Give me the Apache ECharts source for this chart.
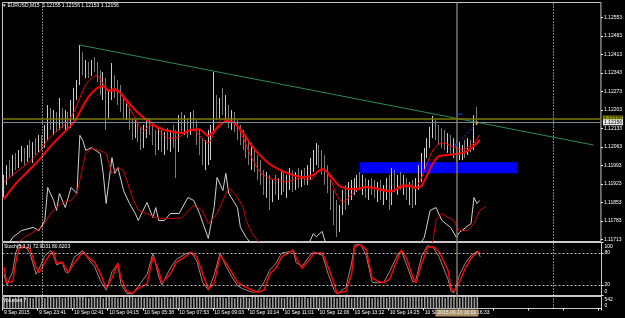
<!DOCTYPE html>
<html><head><meta charset="utf-8">
<script src="https://cdn.jsdelivr.net/npm/echarts@6/dist/echarts.min.js"></script>
<style>html,body{margin:0;padding:0;background:#000;overflow:hidden}#c{width:625px;height:318px}</style>
</head><body><div id="c"></div>
<script>
// ---------- DATA ----------
const timeLabels = ['9 Sep 2015','9 Sep 23:41','10 Sep 02:41','10 Sep 04:15','10 Sep 05:38','10 Sep 07:53','10 Sep 09:03','10 Sep 10:14','10 Sep 11:01','10 Sep 12:06','10 Sep 13:12','10 Sep 14:25','10 Sep 15:20','10 Sep 16:33'];
const priceTicks = [1.11713,1.11783,1.11853,1.11923,1.11993,1.12063,1.12133,1.12203,1.12273,1.12343,1.12413,1.12483,1.12553];
const stochTicks = [0,20,80,100];
const stochLevels = [80,20];

const opens = [
1.11892,1.11938,1.11975,1.11960,1.12013,1.11994,1.12032,1.12051,1.12013,1.12059,
1.12032,1.12070,1.12051,1.12089,1.12070,1.12127,1.12202,1.12146,1.12183,1.12134,
1.12202,1.12164,1.12172,1.12146,1.12202,1.12259,1.12297,1.12410,1.12361,1.12372,
1.12346,1.12376,1.12361,1.12323,1.12285,1.12316,1.12183,1.12259,1.12334,1.12278,
1.12248,1.12221,1.12195,1.12210,1.12146,1.12119,1.12134,1.12096,1.12070,1.12119,
1.12157,1.12127,1.12089,1.12059,1.12108,1.12070,1.12089,1.12070,1.12108,1.12089,
1.12051,1.12164,1.12134,1.12157,1.12119,1.12172,1.12146,1.12089,1.12059,1.12032,
1.12070,1.12108,1.12127,1.12240,1.12183,1.12232,1.12202,1.12221,1.12164,1.12183,
1.12146,1.12108,1.12089,1.12070,1.12051,1.12021,1.12051,1.11994,1.11968,1.11938,
1.11907,1.11938,1.11862,1.11919,1.11900,1.11919,1.11945,1.11907,1.11938,1.11957,
1.11919,1.11945,1.11930,1.11957,1.11938,1.11975,1.12006,1.12032,1.12051,1.12013,
1.11983,1.11945,1.11907,1.11862,1.11805,1.11767,1.11824,1.11881,1.11862,1.11907,
1.11919,1.11930,1.11945,1.11919,1.11938,1.11900,1.11919,1.11907,1.11892,1.11919,
1.11881,1.11900,1.11930,1.11862,1.11957,1.11919,1.11938,1.11919,1.11945,1.11881,
1.11907,1.11862,1.11919,1.11975,1.12013,1.12043,1.12081,1.12119,1.12157,1.12127,
1.12108,1.12089,1.12070,1.12096,1.12051,1.12070,1.12021,1.12051,1.12059,1.12043,
1.12070,1.12059,1.12172,1.12155];
const highs = [
1.11957,1.11994,1.12013,1.12032,1.12040,1.12051,1.12066,1.12059,1.12070,1.12089,
1.12081,1.12096,1.12108,1.12108,1.12146,1.12221,1.12210,1.12202,1.12195,1.12248,
1.12210,1.12202,1.12195,1.12240,1.12285,1.12316,1.12448,1.12421,1.12391,1.12384,
1.12391,1.12402,1.12384,1.12353,1.12346,1.12323,1.12278,1.12380,1.12334,1.12316,
1.12297,1.12259,1.12229,1.12214,1.12172,1.12164,1.12157,1.12134,1.12146,1.12172,
1.12172,1.12146,1.12127,1.12134,1.12127,1.12119,1.12134,1.12127,1.12146,1.12127,
1.12183,1.12195,1.12183,1.12172,1.12195,1.12202,1.12164,1.12127,1.12096,1.12089,
1.12127,1.12146,1.12346,1.12259,1.12248,1.12285,1.12259,1.12221,1.12202,1.12195,
1.12164,1.12146,1.12127,1.12108,1.12089,1.12077,1.12059,1.12032,1.12013,1.11975,
1.11968,1.11957,1.11938,1.11957,1.11945,1.11975,1.11968,1.11957,1.11983,1.11975,
1.11968,1.11983,1.11975,1.11983,1.11994,1.12021,1.12051,1.12077,1.12070,1.12051,
1.12032,1.11994,1.11938,1.11900,1.11862,1.11843,1.11900,1.11919,1.11930,1.11938,
1.11945,1.11957,1.11968,1.11957,1.11945,1.11938,1.11945,1.11938,1.11930,1.11938,
1.11919,1.11945,1.11957,1.11983,1.11975,1.11957,1.11968,1.11957,1.11945,1.11930,
1.11938,1.11945,1.11994,1.12040,1.12059,1.12096,1.12138,1.12180,1.12164,1.12146,
1.12134,1.12127,1.12115,1.12108,1.12096,1.12089,1.12081,1.12070,1.12089,1.12096,
1.12089,1.12183,1.12214,1.12156];
const lows = [
1.11873,1.11919,1.11945,1.11953,1.11975,1.11983,1.12006,1.11994,1.12006,1.12021,
1.12002,1.12032,1.12043,1.12051,1.12059,1.12089,1.12127,1.12108,1.12119,1.12127,
1.12134,1.12119,1.12127,1.12134,1.12164,1.12240,1.12297,1.12334,1.12323,1.12323,
1.12331,1.12346,1.12308,1.12259,1.12240,1.12127,1.12172,1.12240,1.12248,1.12221,
1.12195,1.12172,1.12164,1.12127,1.12089,1.12096,1.12081,1.12051,1.12059,1.12096,
1.12108,1.12070,1.12032,1.12051,1.12043,1.12032,1.12051,1.12043,1.12059,1.11945,
1.12043,1.12119,1.12108,1.12096,1.12108,1.12127,1.12070,1.12032,1.11994,1.11975,
1.11994,1.12013,1.12119,1.12164,1.12172,1.12183,1.12164,1.12134,1.12127,1.12119,
1.12089,1.12070,1.12051,1.12021,1.11994,1.11975,1.11968,1.11938,1.11919,1.11881,
1.11870,1.11824,1.11854,1.11881,1.11862,1.11881,1.11892,1.11870,1.11900,1.11892,
1.11900,1.11907,1.11911,1.11919,1.11919,1.11938,1.11968,1.11994,1.11983,1.11957,
1.11919,1.11888,1.11824,1.11767,1.11722,1.11741,1.11805,1.11824,1.11843,1.11862,
1.11881,1.11892,1.11900,1.11881,1.11870,1.11862,1.11881,1.11870,1.11854,1.11862,
1.11843,1.11862,1.11824,1.11843,1.11892,1.11881,1.11900,1.11881,1.11862,1.11843,
1.11832,1.11843,1.11900,1.11930,1.11975,1.12021,1.12059,1.12096,1.12089,1.12070,
1.12059,1.12051,1.12040,1.12032,1.12021,1.12006,1.12013,1.12013,1.12021,1.12032,
1.12043,1.12051,1.12146,1.12153];
const closes = [
1.11938,1.11975,1.11957,1.12013,1.11994,1.12032,1.12051,1.12013,1.12059,1.12032,
1.12070,1.12051,1.12089,1.12070,1.12127,1.12202,1.12146,1.12183,1.12134,1.12202,
1.12164,1.12172,1.12146,1.12210,1.12259,1.12297,1.12410,1.12361,1.12372,1.12346,
1.12376,1.12361,1.12323,1.12285,1.12316,1.12164,1.12259,1.12334,1.12278,1.12248,
1.12221,1.12195,1.12210,1.12146,1.12119,1.12134,1.12096,1.12070,1.12119,1.12157,
1.12127,1.12089,1.12059,1.12108,1.12070,1.12089,1.12070,1.12108,1.12089,1.12051,
1.12164,1.12134,1.12157,1.12119,1.12172,1.12146,1.12089,1.12059,1.12032,1.12070,
1.12108,1.12127,1.12240,1.12183,1.12232,1.12202,1.12221,1.12164,1.12183,1.12146,
1.12108,1.12089,1.12070,1.12051,1.12021,1.12051,1.11994,1.11968,1.11938,1.11907,
1.11938,1.11862,1.11919,1.11900,1.11919,1.11945,1.11907,1.11938,1.11957,1.11919,
1.11945,1.11930,1.11957,1.11938,1.11975,1.12006,1.12032,1.12051,1.12013,1.11983,
1.11945,1.11907,1.11862,1.11805,1.11767,1.11824,1.11881,1.11862,1.11907,1.11919,
1.11930,1.11945,1.11919,1.11938,1.11900,1.11919,1.11907,1.11892,1.11919,1.11881,
1.11900,1.11930,1.11862,1.11957,1.11919,1.11938,1.11919,1.11945,1.11881,1.11907,
1.11862,1.11919,1.11975,1.12013,1.12043,1.12081,1.12119,1.12157,1.12127,1.12108,
1.12089,1.12070,1.12096,1.12051,1.12070,1.12021,1.12051,1.12059,1.12043,1.12070,
1.12059,1.12172,1.12157,1.12156];
const volumes = [
512,488,530,455,498,520,470,542,505,480,462,515,498,530,475,520,540,502,488,515,
470,495,528,510,482,536,542,520,498,476,505,530,488,512,466,540,525,498,510,484,
470,515,492,528,505,478,500,522,488,510,470,495,518,506,480,532,498,470,512,540,
526,488,505,476,515,498,530,510,485,520,542,530,505,488,512,495,478,520,502,466,
510,488,525,498,472,515,530,505,484,520,498,476,512,536,505,488,470,515,498,522,
480,506,492,518,470,500,526,512,488,540,530,505,520,498,476,512,488,530,505,470,
495,518,502,486,522,498,470,510,490,528,505,478,515,496,532,508,484,520,498,512,
540,528,512,496,520,505,488,515,530,498,510,486,520,502,528,495,470,512,540,505,
518,496,530,7];

// moving averages (bar index, price)
const maSlowIdx = [0,4,8,12,16,20,24,26,28,30,32,34,36,38,40,42,44,46,48,50,52,55,58,61,64,67,70,73,76,79,82,85,88,91,94,97,100,103,106,109,111,113,115,118,121,124,127,130,133,136,139,141,143,145,147,149,152,155,158,161,163];
const maSlowVal = [1.11866,1.11923,1.11968,1.12013,1.12066,1.12111,1.12157,1.12195,1.12236,1.12266,1.12285,1.12293,1.12274,1.12278,1.12266,1.12240,1.12214,1.12191,1.12172,1.12157,1.12142,1.12127,1.12119,1.12115,1.12127,1.12130,1.12104,1.12134,1.12161,1.12153,1.12115,1.12066,1.12028,1.11998,1.11979,1.11964,1.11953,1.11949,1.11957,1.11979,1.11964,1.11938,1.11915,1.11904,1.11904,1.11911,1.11907,1.11900,1.11896,1.11911,1.11915,1.11907,1.11915,1.11957,1.12002,1.12028,1.12032,1.12036,1.12043,1.12066,1.12089];
const maFastIdx = [0,3,6,9,12,15,18,21,24,26,28,30,32,34,36,38,40,42,44,46,48,50,52,54,56,58,60,62,64,66,68,70,72,74,76,78,80,82,84,86,88,90,92,94,96,98,100,102,104,106,108,110,112,114,116,118,120,122,124,127,130,133,136,139,141,143,145,147,149,151,153,155,157,159,161,163];
const maFastVal = [1.11930,1.11957,1.11983,1.12009,1.12043,1.12089,1.12123,1.12149,1.12195,1.12248,1.12297,1.12323,1.12334,1.12300,1.12278,1.12285,1.12263,1.12229,1.12191,1.12149,1.12123,1.12146,1.12138,1.12115,1.12096,1.12096,1.12100,1.12115,1.12130,1.12119,1.12093,1.12077,1.12115,1.12164,1.12172,1.12161,1.12142,1.12096,1.12043,1.11998,1.11964,1.11949,1.11941,1.11938,1.11930,1.11934,1.11941,1.11945,1.11938,1.11945,1.11975,1.11975,1.11938,1.11881,1.11854,1.11870,1.11892,1.11907,1.11911,1.11904,1.11896,1.11892,1.11919,1.11919,1.11911,1.11945,1.12002,1.12051,1.12074,1.12077,1.12066,1.12059,1.12051,1.12062,1.12077,1.12108];

// overlay oscillator in the price window (own 0-100 scale, clipped by the pane)
const oscWhiteIdx = [0,3,6,10,12,14,15,17,18,19,21,22,23,25,26,27,28,30,33,34,35,36,37,38,39,41,43,45,46,49,51,52,53,55,57,60,63,65,67,70,72,73,75,76,77,80,81,83,86,90,100,104,106,107,109,111,120,130,140,142,144,146,148,150,153,155,156,160,161,162,163];
const oscWhiteVal = [-4,1.7,4.6,5.9,4.6,8.8,22.6,17.2,13.0,20.1,14.2,18.4,22.6,20.1,44.4,42.3,38.1,39.3,36.8,28.5,15.9,25.5,35.1,28.5,31.0,21.3,15.9,11.7,8.8,16.3,10.0,14.2,8.8,8.8,11.7,11.7,18.4,17.2,11.7,1.3,14.2,26.8,21.3,28.5,20.1,14.2,5.9,1.7,-3,-6,-6,-2,3.3,2.0,4.2,-4,-6,-6,-5,-2,1.7,13.0,14.2,8.8,5.9,1.7,3.8,7.5,18.4,15.9,17.2];
const oscRedIdx = [0,7,11,13,16,18,20,23,25,28,30,33,35,37,39,41,44,46,49,52,55,58,61,65,68,70,73,77,80,82,83,85,87,90,120,145,147,148,150,154,156,159,161,163,165];
const oscRedVal = [-5,1.7,4.6,5.9,11.7,14.2,16.3,17.2,20.1,36.8,38.9,38.1,36.8,28.5,31.0,29.7,18.4,13.0,11.7,10.0,9.6,9.6,10.0,15.1,13.0,7.5,11.7,22.6,18.4,14.2,8.8,3.3,0.4,-4,-6,-4,0.4,8.8,11.7,8.8,4.6,4.6,7.5,13.0,14.6];

// stochastic
const stochIdx = [0,1,3,4,5,6,8,9,11,12,14,16,17,18,20,21,22,24,27,29,31,33,35,37,39,40,42,44,46,49,51,53,54,57,59,62,64,66,68,70,72,74,76,78,80,82,85,87,89,91,93,95,99,100,102,105,106,109,111,113,114,117,119,120,122,124,126,128,130,132,135,136,138,140,141,143,145,147,149,152,153,154,156,158,160,162,163];
const stochD = [53,24,27,61,86,92,90,86,53,43,63,80,82,61,63,53,43,61,82,71,63,41,14,33,61,33,8,4,14,22,73,47,24,41,63,73,82,73,41,12,24,76,61,43,24,18,10,6,10,41,51,73,86,71,51,71,80,80,53,22,4,8,41,92,96,86,33,27,24,31,73,86,67,33,24,61,90,92,82,47,14,8,27,53,71,82,80.6203];
const stochK = [40,20,45,80,95,94,88,78,40,50,75,85,75,58,62,45,42,72,85,68,55,28,10,45,60,22,4,3,18,40,80,35,20,52,68,78,82,65,25,10,40,80,55,35,18,12,6,8,25,48,60,80,84,62,55,78,82,76,40,10,3,15,62,95,97,75,25,24,25,45,80,84,55,25,30,75,94,90,72,30,8,5,40,62,76,84,72.9031];

// chart objects
const trendIdx = [26, 202];
const trendPrice = [1.12448, 1.12070];
const zoneIdx = [122, 176];
const zonePrice = [1.12005, 1.11963];
const hLinePrices = [1.12170, 1.12156];
const separatorIdx = [13, 188];
const cursorIdx = 155;
const cursorLabel = '2015.09.10 16:01';
const tradeIdx = [155, 162];
const tradePrice = [1.12070, 1.12153];
const orderIdx = [155, 157];
const orderPrice = [1.12187, 1.12187];

// ---------- CHART ----------
const N_SLOTS = 205;
const cats = Array.from({length: N_SLOTS}, (_, i) => String(i));
const FONT = 'Liberation Sans';
const FS = 5;
const last = opens.length - 1;
const volMax = Math.max(...volumes);
const pair = (a, b) => a.map((x, k) => [x, b[k]]);
const candleData = opens.map((o, i) => [o, closes[i], lows[i], highs[i]]);

function vLines(withCursorLabel) {
  const arr = separatorIdx.map(x => ({xAxis: x, lineStyle: {color: '#ffffff', type: [1, 2], width: 1}, label: {show: false}}));
  const cur = {xAxis: cursorIdx, lineStyle: {color: '#857560', width: 1.5, type: 'solid'}, label: {show: false}};
  if (withCursorLabel) {
    cur.label = {show: true, position: 'start', formatter: cursorLabel, color: '#f4f0e8', backgroundColor: '#a8926c',
      padding: [1, 2, 1, 2], fontSize: FS, fontFamily: FONT, distance: 1};
  }
  arr.push(cur);
  return arr;
}
const gridBase = {left: 2.5, right: 23.5, show: true, borderColor: '#c8c8c8', borderWidth: 1, backgroundColor: 'transparent'};
const txt = {color: '#ffffff', fontSize: FS, fontFamily: FONT, fontWeight: 'normal'};
const hLineMarks = [
  {yAxis: hLinePrices[0], lineStyle: {color: '#7a7a00', width: 1.5, type: 'solid'},
   label: {show: true, position: 'end', distance: 2, formatter: p => Number(p.value).toFixed(5), color: '#000000', backgroundColor: '#8a8a00', padding: [1, 1, 0, 1], fontSize: FS, fontFamily: FONT}},
  {yAxis: hLinePrices[1], lineStyle: {color: '#778899', width: 1, type: 'solid'},
   label: {show: true, position: 'end', distance: 2, formatter: p => Number(p.value).toFixed(5), color: '#000000', backgroundColor: '#e8e8e8', padding: [1, 1, 0, 1], fontSize: FS, fontFamily: FONT}}
];

const option = {
  backgroundColor: '#000000',
  animation: false,
  title: [
    {text: '\u25BE EURUSD,M15  ' + [opens[last], highs[last], lows[last], closes[last]].map(v => v.toFixed(5)).join(' '),
     left: 3, top: 3, padding: 0, textStyle: txt},
    {text: 'Stoch(5,3,3) ' + stochK[stochK.length-1].toFixed(4) + ' ' + stochD[stochD.length-1].toFixed(4),
     left: 4, top: 244.5, padding: 0, textStyle: txt},
    {text: 'Volumes ' + volumes[last], left: 3, top: 298.5, padding: 0, textStyle: txt}
  ],
  grid: [
    Object.assign({top: 2.5, height: 239}, gridBase),
    Object.assign({top: 242.5, height: 53}, gridBase),
    Object.assign({top: 296.5, height: 12}, gridBase)
  ],
  xAxis: [0, 1, 2].map(g => ({
    type: 'category', gridIndex: g, data: cats, boundaryGap: true,
    axisLine: {show: false}, splitLine: {show: false},
    axisTick: g === 2 ? {show: true, interval: 11, length: 2, lineStyle: {color: '#ffffff'}} : {show: false},
    axisLabel: g === 2 ? {show: true, interval: 11, align: 'left', margin: 2, color: '#ffffff', fontSize: FS, fontFamily: FONT,
      formatter: (v, i) => (i % 12 === 0 && timeLabels[i / 12] && i <= last) ? timeLabels[i / 12] : ''} : {show: false}
  })),
  yAxis: [
    {type: 'value', gridIndex: 0, position: 'right', min: 1.11705, max: 1.12609,
     splitLine: {show: false}, axisLine: {show: false},
     axisTick: {show: true, customValues: priceTicks, length: 2, lineStyle: {color: '#ffffff'}},
     axisLabel: {customValues: priceTicks, formatter: v => v.toFixed(5), color: '#ffffff', fontSize: FS, fontFamily: FONT, margin: 3}},
    {type: 'value', gridIndex: 0, min: 0, max: 100, show: false},
    {type: 'value', gridIndex: 1, position: 'right', min: 0, max: 100,
     splitLine: {show: false}, axisLine: {show: false},
     axisTick: {show: true, customValues: stochTicks, length: 2, lineStyle: {color: '#ffffff'}},
     axisLabel: {customValues: stochTicks, color: '#ffffff', fontSize: FS, fontFamily: FONT, margin: 3, showMinLabel: true, showMaxLabel: true,
       formatter: v => v === 100 ? '{t|100}' : (v === 0 ? '{b|0}' : String(v)),
       rich: {t: {padding: [8, 0, 0, 0], fontSize: FS, color: '#fff', fontFamily: FONT}, b: {padding: [0, 0, 7, 0], fontSize: FS, color: '#fff', fontFamily: FONT}}}},
    {type: 'value', gridIndex: 2, position: 'right', min: 0, max: volMax,
     splitLine: {show: false}, axisLine: {show: false}, axisTick: {show: false},
     axisLabel: {customValues: [0, volMax], color: '#ffffff', fontSize: FS, fontFamily: FONT, margin: 3, showMinLabel: true, showMaxLabel: true,
       formatter: v => v === 0 ? '{b|0}' : '{t|' + v + '}',
       rich: {t: {padding: [6, 0, 0, 0], fontSize: FS, color: '#fff', fontFamily: FONT}, b: {padding: [0, 0, 5, 0], fontSize: FS, color: '#fff', fontFamily: FONT}}}}
  ],
  series: [
    {type: 'candlestick', xAxisIndex: 0, yAxisIndex: 0, data: candleData, barWidth: 1.2, z: 2,
     itemStyle: {color: '#ffffff', color0: '#9c9c9c', borderColor: '#ffffff', borderColor0: '#9c9c9c', borderWidth: 0.8},
     markLine: {symbol: ['none', 'none'], silent: true, animation: false, data: vLines(false)}},
    {type: 'line', xAxisIndex: 0, yAxisIndex: 0, data: [], z: 3,
     markArea: {silent: true, itemStyle: {color: '#0000ff', opacity: 1},
       data: [[{xAxis: zoneIdx[0], yAxis: zonePrice[0]}, {xAxis: zoneIdx[1], yAxis: zonePrice[1]}]]}},
    {type: 'line', xAxisIndex: 0, yAxisIndex: 1, data: pair(oscWhiteIdx, oscWhiteVal), symbol: 'none', z: 3,
     lineStyle: {color: '#d2d2d2', width: 1}},
    {type: 'line', xAxisIndex: 0, yAxisIndex: 1, data: pair(oscRedIdx, oscRedVal), symbol: 'none', z: 3,
     lineStyle: {color: '#d00000', width: 1}},
    {type: 'line', xAxisIndex: 0, yAxisIndex: 0, data: pair(maSlowIdx, maSlowVal), symbol: 'none', z: 4, smooth: 0.2,
     lineStyle: {color: '#ff0000', width: 2}},
    {type: 'line', xAxisIndex: 0, yAxisIndex: 0, data: pair(maFastIdx, maFastVal), symbol: 'none', z: 4, smooth: 0.2,
     lineStyle: {color: '#ff0000', width: 1}},
    {type: 'line', xAxisIndex: 0, yAxisIndex: 0, data: pair(trendIdx, trendPrice), symbol: 'none', z: 4,
     lineStyle: {color: '#2e8b57', width: 1},
     markLine: {symbol: ['none', 'none'], silent: true, animation: false, precision: 5, data: hLineMarks}},
    {type: 'line', xAxisIndex: 0, yAxisIndex: 0, data: pair(tradeIdx, tradePrice), symbol: 'none', z: 5,
     lineStyle: {color: '#2040ff', width: 1, type: [2, 2]}},
    {type: 'line', xAxisIndex: 0, yAxisIndex: 0, data: pair(orderIdx, orderPrice), symbol: 'none', z: 5,
     lineStyle: {color: '#2040ff', width: 1}},
    {type: 'scatter', xAxisIndex: 0, yAxisIndex: 0, data: [pair(tradeIdx, tradePrice)[0]], symbol: 'rect', symbolSize: [3, 3], z: 6,
     itemStyle: {color: '#2040ff'}},
    {type: 'scatter', xAxisIndex: 0, yAxisIndex: 0, data: [pair(tradeIdx, tradePrice)[1]], symbol: 'rect', symbolSize: [2, 3], z: 6,
     itemStyle: {color: '#e8c000'}},
    {type: 'line', xAxisIndex: 1, yAxisIndex: 2, data: pair(stochIdx, stochK), symbol: 'none', z: 3,
     lineStyle: {color: '#8c8c8c', width: 1},
     markLine: {symbol: ['none', 'none'], silent: true, animation: false,
       data: vLines(false).concat(stochLevels.map(v => ({yAxis: v, lineStyle: {color: '#bcbcbc', type: [2, 2], width: 1}, label: {show: false}})))}},
    {type: 'line', xAxisIndex: 1, yAxisIndex: 2, data: pair(stochIdx, stochD), symbol: 'none', z: 4,
     lineStyle: {color: '#ff0000', width: 1.5}},
    {type: 'bar', xAxisIndex: 2, yAxisIndex: 3, data: volumes, barWidth: 1.5, z: 2,
     itemStyle: {color: '#a0a0a0'},
     markLine: {symbol: ['none', 'none'], silent: true, animation: false, data: vLines(true)}}
  ]
};
const chart = echarts.init(document.getElementById('c'), null, {renderer: 'canvas'});
chart.setOption(option);
</script>
</body></html>
